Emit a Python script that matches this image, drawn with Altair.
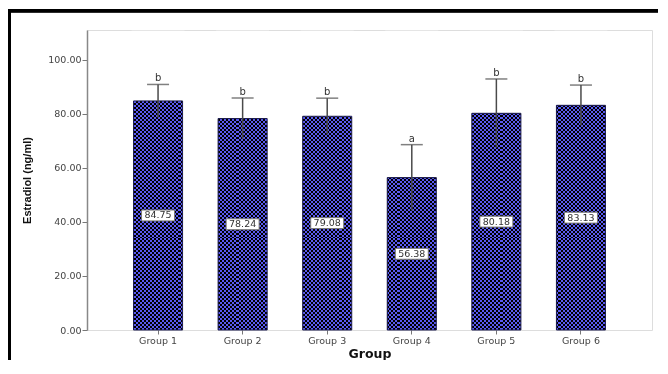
import altair as alt
import pandas as pd

groups = ["Group 1", "Group 2", "Group 3", "Group 4", "Group 5", "Group 6"]
means = [84.75, 78.24, 79.08, 56.38, 80.18, 83.13]
errs = [6.1, 7.6, 6.7, 12.2, 12.7, 7.5]
letters = ["b", "b", "b", "a", "b", "b"]
y_ticks = [0, 20, 40, 60, 80, 100]
Y_MAX = 111

df = pd.DataFrame({"group": groups, "mean": means, "err": errs, "letter": letters})
df["upper"] = df["mean"] + df["err"]
df["lower"] = df["mean"] - df["err"]
df["mid"] = df["mean"] / 2
df["label"] = df["mean"].map(lambda v: f"{v:.2f}")
df["mask_top"] = Y_MAX - 0.3
df["col_top"] = Y_MAX - 0.6
df["zero"] = 0

FONT = "DejaVu Sans"
BLUE = "#5a5af0"
DARK = "#000000"


def stripes(n, horizontal):
    stops = []
    for i in range(n):
        c = BLUE if i % 2 == 0 else DARK
        stops.append(alt.GradientStop(offset=i / n, color=c))
        stops.append(alt.GradientStop(offset=(i + 1) / n, color=c))
    if horizontal:
        return alt.LinearGradient(gradient="linear", stops=stops, x1=0, x2=0, y1=0, y2=1)
    return alt.LinearGradient(gradient="linear", stops=stops, x1=0, x2=1, y1=0, y2=0)


xs = alt.X("group:N", sort=groups)
x_enc = alt.X(
    "group:N",
    sort=groups,
    scale=alt.Scale(paddingInner=0.42, paddingOuter=0.55),
    axis=alt.Axis(
        title="Group", labelAngle=0, labelFontSize=9.5, labelColor="#444",
        labelFont=FONT, tickSize=4, tickColor="#777", domain=False,
        labelPadding=1, titleFont=FONT, titleFontSize=12.5, titleFontWeight="bold",
        titleColor="#111", titlePadding=3,
    ),
)
y_scale = alt.Scale(domain=[0, Y_MAX], nice=False)
y_axis = alt.Axis(
    title="Estradiol (ng/ml)", values=y_ticks, format=".2f", labelFontSize=9.5,
    labelColor="#444", labelFont=FONT, tickSize=5, tickColor="#777",
    domainColor="#888", domainWidth=1.5, grid=False, labelPadding=1,
    titleFont="Liberation Sans", titleFontSize=11, titleFontWeight="bold",
    titleColor="#111", titlePadding=15,
)

base = alt.Chart(df)

# horizontal-stripe columns (full plot height), masked above each bar
columns = base.mark_bar(fill=stripes(150, True)).encode(
    x=x_enc, y=alt.Y("zero:Q", scale=y_scale, axis=y_axis), y2="col_top:Q"
)
mask = base.mark_bar(fill="white", width=alt.RelativeBandSize(1.08)).encode(
    x=xs, y="mean:Q", y2="mask_top:Q"
)
# vertical-stripe bars blended by difference -> checker pattern
bars = base.mark_bar(fill=stripes(24, False), blend="difference").encode(
    x=xs, y="zero:Q", y2="mean:Q"
)
outline = base.mark_bar(fillOpacity=0, stroke="#1c1c50", strokeWidth=1).encode(
    x=xs, y="zero:Q", y2="mean:Q"
)
err_rule = base.mark_rule(color="#4a4a4a", strokeWidth=1.5).encode(
    x=xs, y="lower:Q", y2="upper:Q"
)
caps = base.mark_tick(color="#4a4a4a", thickness=1.5, size=22).encode(
    x=xs, y="upper:Q"
)
letter_txt = base.mark_text(fontSize=10, font=FONT, color="#333", dy=-6).encode(
    x=xs, y="upper:Q", text="letter:N"
)
boxes = base.mark_point(
    shape="M-1,-0.33H1V0.33H-1Z", size=1089, filled=True, fill="white",
    stroke="#777", strokeWidth=1, opacity=1,
).encode(x=xs, y="mid:Q")
vals = base.mark_text(fontSize=9.5, font=FONT, color="#333").encode(
    x=xs, y="mid:Q", text="label:N"
)
frame_top = alt.Chart(df).mark_rule(stroke="black", strokeWidth=3).encode(
    x=alt.value(-79), x2=alt.value(620), y=alt.value(-19.3)
)
frame_left = alt.Chart(df).mark_rule(stroke="black", strokeWidth=3).encode(
    x=alt.value(-77.5), y=alt.value(-20.8), y2=alt.value(420)
)

chart = alt.layer(
    frame_top, frame_left, columns, mask, bars, outline,
    err_rule, caps, letter_txt, boxes, vals,
).properties(
    width=565, height=300,
    autosize=alt.AutoSizeParams(type="none"),
    padding={"left": 79, "top": 22, "right": 6, "bottom": 30},
).configure_view(stroke="#888", strokeWidth=1.5).configure(background="white")

chart.save("out.html", embed_options={"renderer": "svg", "actions": False})
